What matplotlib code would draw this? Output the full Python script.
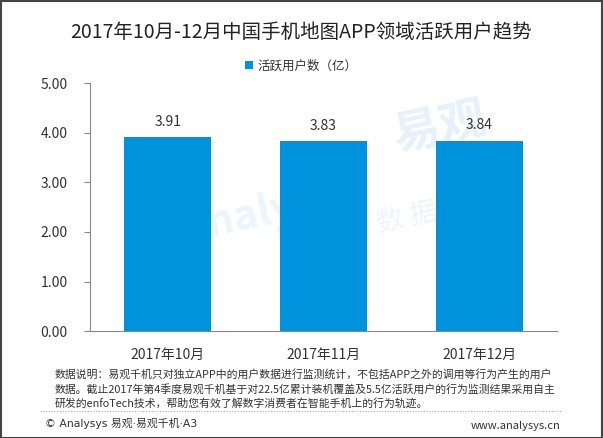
import matplotlib.pyplot as plt
from matplotlib.patches import Rectangle
from matplotlib.lines import Line2D

plt.rcParams['font.family'] = ['Noto Sans CJK SC', 'DejaVu Sans']

months = ["2017年10月", "2017年11月", "2017年12月"]
users = [3.91, 3.83, 3.84]
yticks = [0, 1, 2, 3, 4, 5]

title = "2017年10月-12月中国手机地图APP领域活跃用户趋势"
series_name = "活跃用户数（亿）"
note = ("数据说明：易观千机只对独立APP中的用户数据进行监测统计，不包括APP之外的调用等行为产生的用户\n"
        "数据。截止2017年第4季度易观千机基于对22.5亿累计装机覆盖及5.5亿活跃用户的行为监测结果采用自主\n"
        "研发的enfoTech技术，帮助您有效了解数字消费者在智能手机上的行为轨迹。")

blue = "#0093dd"
txt = "#333333"

fig = plt.figure(figsize=(6.03, 4.38), dpi=100)
ax = fig.add_axes([0.149, 0.244, 0.775, 0.566])

# faint watermark behind the bars
wm = dict(transform=fig.transFigure, ha="center", va="center", rotation=12, zorder=0.5, clip_on=False)
ax.text(0.73, 0.71, "易观", fontsize=34, color="#e6f2fb", fontweight="bold", **wm)
ax.text(0.45, 0.52, "analysys", fontsize=30, color="#ebf5fb", fontweight="bold", **wm)
ax.text(0.73, 0.52, "数 据 分 析", fontsize=20, color="#edf5fb", **wm)

x = range(len(months))
bars = ax.bar(x, users, width=0.56, color=blue, label=series_name, zorder=2)
for i, v in enumerate(users):
    ax.text(i, v + 0.17, f"{v:.2f}", ha="center", va="bottom", fontsize=10, color=txt, zorder=3)

ax.set_xlim(-0.5, 2.5)
ax.set_ylim(0, 5)
ax.set_yticks(yticks)
ax.set_yticklabels([f"{t:.2f}" for t in yticks], fontsize=10, color=txt)
ax.set_xticks(list(x))
ax.set_xticklabels(months, fontsize=10, color=txt)
ax.tick_params(axis="x", length=0, pad=12)
ax.tick_params(axis="y", length=4, color="#888888", pad=12)
for s in ["top", "right"]:
    ax.spines[s].set_visible(False)
for s in ["left", "bottom"]:
    ax.spines[s].set_color("#888888")

fig.text(0.5, 0.927, title, ha="center", va="center", fontsize=14, color="#222222")
fig.legend(handles=[bars], loc="center", bbox_to_anchor=(0.5, 0.849), frameon=False,
           fontsize=9, handlelength=0.6, handleheight=0.6, handletextpad=0.4, labelcolor=txt)

fig.text(0.091, 0.112, note, ha="left", va="center", fontsize=7.8, color=txt, linespacing=1.4)
fig.add_artist(Line2D([0.066, 0.93], [0.062, 0.062], color="#aaaaaa", lw=0.8, ls=(0, (1, 1.5))))
fig.text(0.075, 0.034, "© Analysys 易观·易观千机·A3", ha="left", va="center", fontsize=7.8, color=txt,
         family=["DejaVu Sans", "Noto Sans CJK SC"])
fig.text(0.93, 0.027, "www.analysys.cn", ha="right", va="center", fontsize=8, color=txt)

fig.add_artist(Rectangle((0.001, 0.001), 0.997, 0.997, transform=fig.transFigure,
                         fill=False, edgecolor="#444444", lw=1.5))

fig.savefig("out.png", dpi=100)
